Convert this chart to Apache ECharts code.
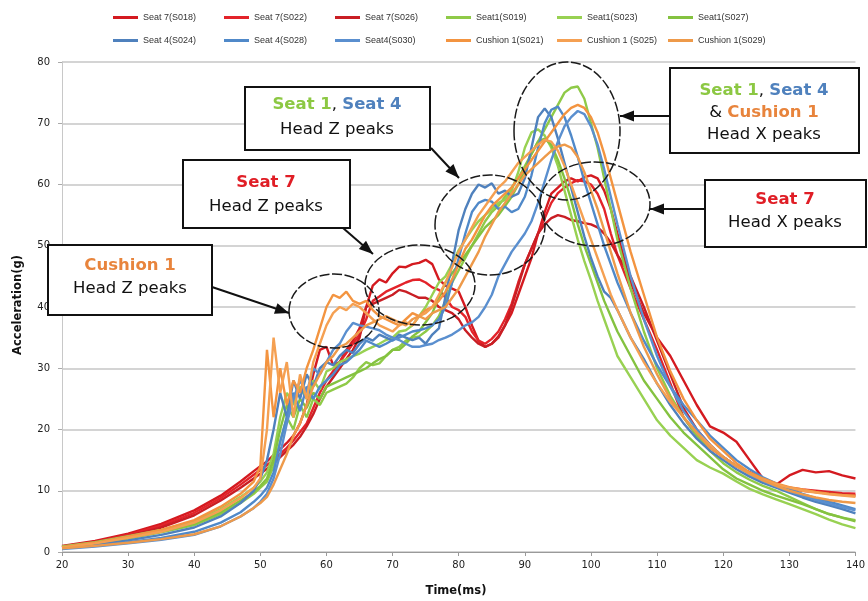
<!DOCTYPE html>
<html>
<head>
<meta charset="utf-8">
<script src="https://cdn.jsdelivr.net/npm/echarts@6/dist/echarts.min.js"></script>
<style>
html,body{margin:0;padding:0;background:#fff;}
#chart{width:868px;height:601px;}
</style>
</head>
<body>
<div id="chart"></div>
<script>
// time axis (ms)
var times = [20,25,30,35,40,44,47,49,
  50,51,52,53,54,55,56,57,58,59,
  60,61,62,63,64,65,66,67,68,69,
  70,71,72,73,74,75,76,77,78,79,
  80,81,82,83,84,85,86,87,88,89,
  90,91,92,93,94,95,96,97,98,99,
  100,101,102,103,104,
  106,108,110,112,114,116,118,120,122,124,126,128,130,132,134,136,138,140];

var seriesNames = ['Seat 7(S018)','Seat 7(S022)','Seat 7(S026)','Seat1(S019)','Seat1(S023)','Seat1(S027)',
  'Seat 4(S024)','Seat 4(S028)','Seat4(S030)','Cushion 1(S021)','Cushion 1 (S025)','Cushion 1(S029)'];

// Seat 7
var seat7_S018 = [1.0,1.8,3.0,4.6,6.8,9.2,11.5,13.2,
  14.0,14.8,15.8,16.8,17.8,19.0,21,24,29,33,
  33.5,30.5,31,33,34.5,36.5,40,43.5,44.5,44,
  45.5,46.6,46.5,47,47.2,47.7,47,44.5,43.5,43,
  42.5,40,37,34.5,33.5,34,35.2,37,39,42,
  45,48,52,55.5,58.5,59.5,60.5,61,60.5,61.2,
  61.5,61,59,56,52,
  44,39,35,32,28,24,20.5,19.5,18,15,12,11,12.5,13.4,13,13.2,12.5,12];
var seat7_S022 = [0.9,1.7,2.8,4.3,6.4,8.8,11,12.6,
  13.4,14.2,15,16,17,18.2,19.6,21,23.5,26,
  28,29.5,31,32.5,34,35.5,38,41,41.7,42.5,
  43,43.5,44,44.4,44.5,44,43.2,42.8,41.5,40,
  39.5,38.4,36,34.5,34,34.8,36,38,40.5,44,
  47,49.5,52,54.5,57,58.6,59.5,60.2,60.7,60.5,
  60,58.5,56,52,48.5,
  43,38,33,27.5,22,19,17,15.5,14,13,12,11,10.5,10.2,10,9.8,9.6,9.5];
var seat7_S026 = [0.8,1.6,2.6,4.0,6.0,8.4,10.5,12,
  12.8,13.6,14.5,15.5,16.5,17.5,18.8,20.5,22.5,25,
  27,28.5,30,31.5,33,35,40,40.5,41,41.5,
  42,42.8,42.5,42,41.5,41.5,41,40,39.5,39,
  38,36.2,35,34,33.5,34,35,37,40,43.5,
  47,49.5,52,53.5,54.5,55,54.7,54.2,54,53.7,
  53.5,53,52,50.5,48.5,
  45,40,34.5,29,23.5,20,17.5,15.5,14,13,12,11,10.5,10,9.8,9.6,9.4,9.2];
// Seat 1
var seat1_S019 = [0.7,1.3,2.2,3.2,4.4,6.2,8.0,9.5,
  10.5,11.5,14,18,22,20,24,22,25,24,
  26,26.5,27,27.5,28.5,30,31,30.5,30.8,32,
  33,33.5,34.5,35,35.2,36,37,38.5,41,44,
  46,48,50,52,54,55.5,56.5,58,59.5,61,
  63,65,67,69,71,73,75,75.8,76,74,
  70,66,61,56,51,
  43,36,30,25.5,22,19,16.5,14.5,13,11.8,10.8,10,9,8,7,6.2,5.6,5.2];
var seat1_S023 = [0.9,1.6,2.6,3.6,5.0,7.0,9.0,10.5,
  11.5,13,16,22,26,24,27,25,28,26.5,
  29.5,30,31,31.5,32,32.4,33,33.5,34,34.6,
  35,36,36.2,37,38.5,40,42,44,45,47,
  49.3,51,52.6,54,55,56,57,57.5,59,62,
  66,68.5,69,68,66,63,59,55,51,47.5,
  44.4,41,38,35,32,
  28.5,25,21.5,19,17,15,13.8,12.8,11.5,10.3,9.4,8.6,7.8,7,6.2,5.3,4.5,3.9];
var seat1_S027 = [0.8,1.4,2.4,3.4,4.6,6.5,8.4,9.8,
  10.8,12,15,20,24,22,25,23.5,26,25,
  27,27.5,28,28.5,29,29.5,30,30.8,31.5,32,
  33,33,34,35.2,36,37.5,39,41.5,44,45.5,
  47,48.5,50,51.5,53,54,55,56.5,58,60,
  62.5,65,67,67.5,66.5,64,61,57.5,53.5,50,
  47,44,41,38.5,36,
  32,28,25,22,19.5,17.5,15.5,13.5,12,11,10,9.2,8.5,7.8,7,6.2,5.6,5.0];
// Seat 4
var seat4_S024 = [0.7,1.2,1.9,2.8,4.0,5.8,8.0,10,
  12,15,20,26,22,28,25,29,27,30,
  31,30.5,32,33,32.5,34,35,34.5,35.5,35,
  34.5,35.5,35,34.6,35,34,35.5,36.5,41.7,47.2,
  52.6,56,58.5,60,59.5,60.2,58.5,59,58,58.5,
  61,66,71,72.4,71,67.5,63.5,59.5,55.5,51.5,
  48,45,42.5,41.5,39.5,
  35,31.5,27.5,24,21,18.5,16.5,15,13.5,12.3,11.3,10.5,9.7,8.9,8.2,7.6,7,6.3];
var seat4_S028 = [0.6,1.0,1.6,2.3,3.3,4.8,6.5,8.2,
  9.2,10.5,13,18,22,26,23,27,25,27,
  28,29,30.5,31,32,33,34.5,34,33.5,34,
  34.6,35,35.5,36,36.2,36.5,37,38,40,44,
  48,52,55.5,57,57.5,57.2,56,56.4,55.5,56,
  58,61.5,66,70,72.2,72.7,71,68,64.5,60.5,
  57,53.5,50,47,44,
  39,34.5,30.5,27,24,21.5,19,17,15,13.5,12.2,11.2,10.3,9.5,8.8,8.2,7.6,7];
var seat4_S030 = [0.5,0.9,1.4,2.0,2.8,4.2,5.8,7.2,
  8.2,9.5,12,16,21,25,28,26,30,29,
  31,33,34,36,37.4,37,36.8,36.5,36.2,35.5,
  35,34.6,34,33.5,33.5,33.8,34,34.6,35,35.5,
  36.2,37,37.5,38.4,40,42,45,47,49,50.5,
  52,54,57,60.5,64,67,69.5,71,72,71.5,
  69.5,66.5,62.5,58,53.5,
  45,38,32,27,23,20,17.5,15.5,14,12.7,11.6,10.7,9.9,9.2,8.5,7.9,7.3,6.8];
// Cushion 1
var cushion1_S021 = [0.8,1.5,2.5,3.6,5.2,7.4,9.5,11.5,
  14,33,22,30,24,28,26,30,33,36.5,
  40,42,41.5,42.5,41,40.5,41,39.5,38.5,38,
  37.5,37,38,39,38.5,39.5,40,41,42.5,44.5,
  47,49.5,51,53,55,56.5,57.5,58.5,59.5,61,
  62.5,64,65.5,67,68.5,70,71.5,72.5,73,72.5,
  71,68.5,65,61,57,
  49,42,35,29.5,25,21.5,18.5,16.5,14.5,13,12,11.2,10.6,10.2,9.8,9.5,9.3,9.2];
var cushion1_S025 = [0.7,1.4,2.3,3.3,4.8,6.8,8.8,10.5,
  12,20,35,26,31,22,29,25,31,34,
  37,39,40,39.5,40.5,40,39,38,37,36.5,
  36,37,37.5,37,38.5,39,40,42,44,46.5,
  49,51,53,55,56.5,58,59.5,60.5,62,63.5,
  64.5,65.5,66.5,67.3,67,65.5,63,60,57,54,
  51,48,45,42,39.5,
  35,31,27.5,24.5,22,19.5,17.5,15.5,14,12.8,11.8,11,10.5,10,9.7,9.4,9.2,9];
var cushion1_S029 = [0.6,1.0,1.5,2.1,2.9,4.2,5.8,7.2,
  8,9,11,13.5,16,19,21,24,27,29,
  31,32,33.5,34,35,36,37,37.5,38,38.5,
  38,37.5,37,38,38.5,38,39,39.5,40,41.5,
  43,45,47,49,51.5,53.5,55.5,57,58.5,60,
  61.5,62.5,63.5,64.5,65.5,66.2,66.5,66,64.5,62,
  59,56,52.5,49,45.5,
  39,33.5,29,25,22,19.5,17,15.5,14,12.8,11.7,10.8,10,9.4,8.9,8.5,8.2,8];

var xTicks = [20,30,40,50,60,70,80,90,100,110,120,130,140];
var yTicks = [0,10,20,30,40,50,60,70,80];

var seriesValues = [seat7_S018, seat7_S022, seat7_S026, seat1_S019, seat1_S023, seat1_S027,
  seat4_S024, seat4_S028, seat4_S030, cushion1_S021, cushion1_S025, cushion1_S029];
var colors = ['#d41a20','#e3232a','#c91e24','#8fca48','#98d152','#84c240',
  '#4f81bd','#5089c9','#5a8fcf','#f39440','#f5a052','#ee9a4a'];

var chart = echarts.init(document.getElementById('chart'), null, {renderer:'canvas'});

var series = seriesNames.map(function(n, i){
  return {
    name: n, type: 'line', showSymbol: false, symbol: 'none',
    lineStyle: {width: 2.4, color: colors[i]}, itemStyle: {color: colors[i]},
    data: times.map(function(t, k){ return [t, seriesValues[i][k]]; }),
    z: 2
  };
});

var FF = '"DejaVu Sans", Verdana, sans-serif';

function arrowHead(x1,y1,x2,y2){
  var dx=x2-x1, dy=y2-y1, L=Math.sqrt(dx*dx+dy*dy); dx/=L; dy/=L;
  var hl=14, hw=5.5;
  var bx=x2-dx*hl, by=y2-dy*hl;
  return [[x2,y2],[bx-dy*hw,by+dx*hw],[bx+dy*hw,by-dx*hw]];
}
function arrow(x1,y1,x2,y2){
  return [
    {type:'line', shape:{x1:x1,y1:y1,x2:x2,y2:y2}, style:{stroke:'#111', lineWidth:2}, z:20},
    {type:'polygon', shape:{points:arrowHead(x1,y1,x2,y2)}, style:{fill:'#111'}, z:20}
  ];
}
function ellipse(cx,cy,rx,ry){
  return {type:'ellipse', shape:{cx:cx,cy:cy,rx:rx,ry:ry},
    style:{fill:'none', stroke:'#1a1a1a', lineWidth:1.5, lineDash:[10,2.5]}, z:15};
}
function box(x,y,w,h){
  return {type:'rect', shape:{x:x,y:y,width:w,height:h}, style:{fill:'#fff', stroke:'#111', lineWidth:2}, z:18};
}
var rich = {
  o:{fontSize:16.5, fontWeight:'bold', fill:'#e8843c', fontFamily:FF},
  r:{fontSize:16.5, fontWeight:'bold', fill:'#e01e26', fontFamily:FF},
  g:{fontSize:16.5, fontWeight:'bold', fill:'#8cc843', fontFamily:FF},
  b:{fontSize:16.5, fontWeight:'bold', fill:'#4f81bd', fontFamily:FF},
  k:{fontSize:16.5, fontWeight:'normal', fill:'#111', fontFamily:FF}
};
function txt(x,y,s){
  return {type:'text', x:x, y:y, style:{text:s, rich:rich, align:'center', verticalAlign:'middle', fontSize:16.5, fontFamily:FF, fill:'#111'}, z:19};
}

var graphics = [];
graphics.push(ellipse(334,311,45,37));
graphics.push(ellipse(420,285,55,40));
graphics.push(ellipse(490,225,55,50));
graphics.push(ellipse(567,131,53,69));
graphics.push(ellipse(595,204,55,42));
graphics = graphics.concat(arrow(212,287,289,313));
graphics = graphics.concat(arrow(343,228,373,254));
graphics = graphics.concat(arrow(431,148,459,178));
graphics = graphics.concat(arrow(670,116,620,116));
graphics = graphics.concat(arrow(705,209,650,209));
graphics.push(box(48,245,164,70));
graphics.push(txt(130,266,'{o|Cushion 1}'));
graphics.push(txt(130,289,'{k|Head Z peaks}'));
graphics.push(box(183,160,167,68));
graphics.push(txt(266,183,'{r|Seat 7}'));
graphics.push(txt(266,207,'{k|Head Z peaks}'));
graphics.push(box(245,87,185,63));
graphics.push(txt(337,105,'{g|Seat 1}{k|, }{b|Seat 4}'));
graphics.push(txt(337,130,'{k|Head Z peaks}'));
graphics.push(box(670,68,189,85));
graphics.push(txt(764,91,'{g|Seat 1}{k|, }{b|Seat 4}'));
graphics.push(txt(764,113,'{k|& }{o|Cushion 1}'));
graphics.push(txt(764,135,'{k|Head X peaks}'));
graphics.push(box(705,180,161,67));
graphics.push(txt(785,200,'{r|Seat 7}'));
graphics.push(txt(785,223,'{k|Head X peaks}'));
graphics.push({type:'text', x:18, y:305, rotation:Math.PI/2,
  style:{text:'Acceleration(g)', fontSize:11.5, fontWeight:'bold', fontFamily:FF, fill:'#111', align:'center', verticalAlign:'middle'}, z:10});
graphics.push({type:'text', x:456, y:591,
  style:{text:'Time(ms)', fontSize:11.5, fontWeight:'bold', fontFamily:FF, fill:'#111', align:'center', verticalAlign:'middle'}, z:10});

// one legend per item so the columns sit on a fixed pitch, like the original
var legends = seriesNames.map(function(n, i){
  return {
    data: [n], left: 108 + (i % 6) * 111, top: i < 6 ? 8 : 31, orient:'horizontal',
    itemWidth: 25, itemHeight: 3, itemGap: 2, icon: 'rect',
    textStyle: {fontSize: 9, color:'#333', fontFamily: '"Liberation Sans", Arial, sans-serif'},
    selectedMode: false
  };
});

chart.setOption({
  animation: false,
  backgroundColor: '#fff',
  grid: {left: 62, right: 12, top: 62, bottom: 49},
  legend: legends,
  xAxis: {
    type:'value', min: xTicks[0], max: xTicks[xTicks.length-1], interval: 10,
    axisLine:{show:true, lineStyle:{color:'#9a9a9a', width:1.2}},
    axisTick:{show:true, length:4, lineStyle:{color:'#9a9a9a'}},
    axisLabel:{fontSize:10, color:'#222', margin:8, fontFamily:FF},
    splitLine:{show:false}
  },
  yAxis: {
    type:'value', min: yTicks[0], max: yTicks[yTicks.length-1], interval: 10,
    axisLine:{show:true, lineStyle:{color:'#c8c8c8', width:1}},
    axisTick:{show:true, length:4, lineStyle:{color:'#aaa'}},
    axisLabel:{fontSize:10, color:'#222', margin:12, fontFamily:FF},
    splitLine:{show:true, lineStyle:{color:'#c6c6c6', width:1.5}}
  },
  series: series,
  graphic: graphics
});
</script>
</body>
</html>
